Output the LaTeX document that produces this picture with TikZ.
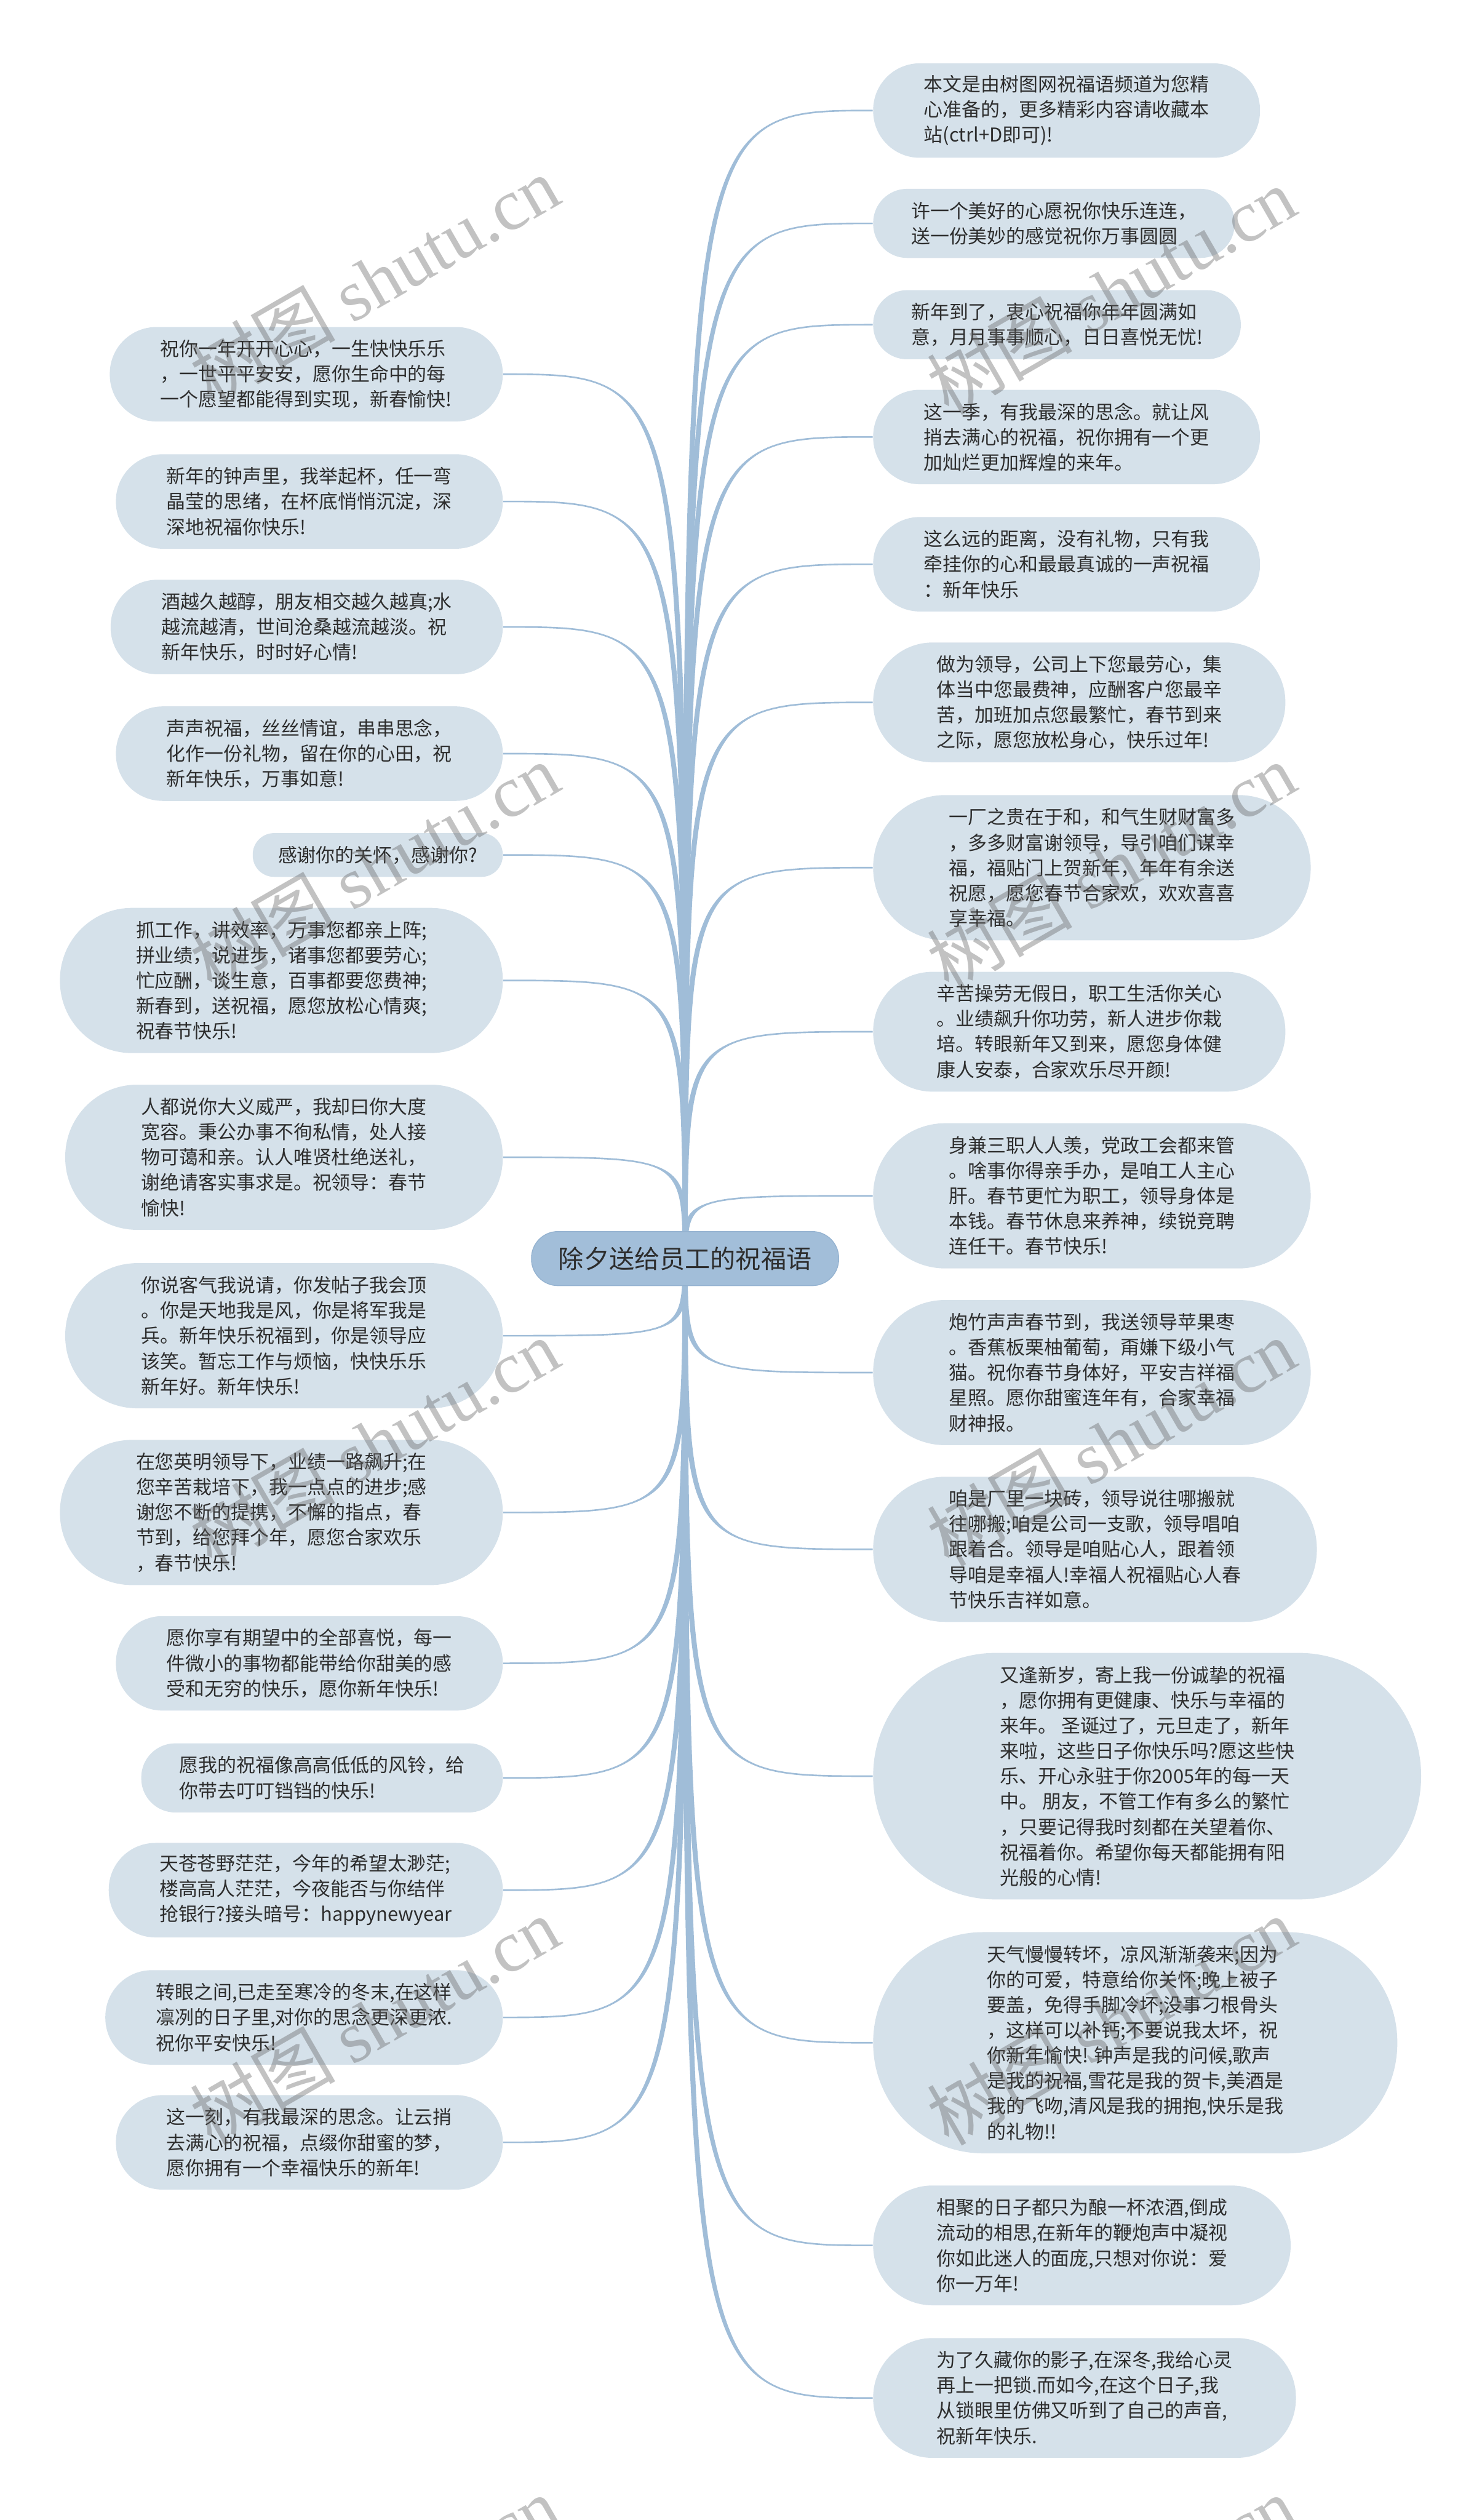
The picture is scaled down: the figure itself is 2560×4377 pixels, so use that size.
\documentclass[tikz,border=0pt]{standalone}
\usepackage{fontspec}
\newfontfamily\cjk{Noto Sans CJK SC}
\newfontfamily\wmlat{Liberation Serif}
\definecolor{leaffill}{RGB}{213,225,234}
\definecolor{rootfill}{RGB}{162,190,217}
\definecolor{rootline}{RGB}{148,178,208}
\definecolor{linecol}{RGB}{160,189,216}
\definecolor{txt}{RGB}{45,45,45}
\pgfdeclarelayer{bg}
\pgfsetlayers{bg,main}
\begin{document}
\begin{tikzpicture}[x=0.01cm,y=-0.01cm,
  leaf/.style={rectangle, fill=leaffill, text=txt, align=left,
    inner ysep=0pt,
    font=\cjk\fontsize{9.4pt}{12.5pt}\selectfont},
  lleaf/.style={leaf, anchor=east},
  rleaf/.style={leaf, anchor=west},
  n1/.style={minimum height=0.76cm, rounded corners=0.37cm, inner xsep=0.44cm},
  n2/.style={minimum height=1.20cm, rounded corners=0.59cm, inner xsep=0.66cm},
  n3/.style={minimum height=1.64cm, rounded corners=0.81cm, inner xsep=0.88cm},
  n4/.style={minimum height=2.08cm, rounded corners=1.03cm, inner xsep=1.10cm},
  n5/.style={minimum height=2.52cm, rounded corners=1.25cm, inner xsep=1.32cm},
  n8/.style={minimum height=3.84cm, rounded corners=1.91cm, inner xsep=1.98cm},
  n9/.style={minimum height=4.28cm, rounded corners=2.13cm, inner xsep=2.20cm},
  conn/.style={draw=linecol, line width=0.8pt},
  taper/.style={fill=linecol},
  wm/.style={rotate=30, text=black!60, text opacity=0.4, inner sep=0pt}
]
\clip (0,0) rectangle (2560,4377);

% root
\node[rectangle, fill=rootfill, draw=rootline, line width=0.4pt,
  minimum height=0.94cm, rounded corners=0.46cm, inner xsep=0.47cm, inner ysep=0pt, text=txt,
  font=\cjk\fontsize{12.5pt}{15pt}\selectfont] (root) at (1190,2186) {除夕送给员工的祝福语};
\coordinate (rcl) at ([xshift=-1.3pt]root.center);
\coordinate (rcr) at ([xshift=1.3pt]root.center);

% left nodes
\node[lleaf,n3] (L1) at (874,650) {祝你一年开开心心，一生快快乐乐\\，一世平平安安，愿你生命中的每\\一个愿望都能得到实现，新春愉快!};
\node[lleaf,n3] (L2) at (874,871) {新年的钟声里，我举起杯，任一弯\\晶莹的思绪，在杯底悄悄沉淀，深\\深地祝福你快乐!};
\node[lleaf,n3] (L3) at (874,1089) {酒越久越醇，朋友相交越久越真;水\\越流越清，世间沧桑越流越淡。祝\\新年快乐，时时好心情!};
\node[lleaf,n3] (L4) at (874,1309) {声声祝福，丝丝情谊，串串思念，\\化作一份礼物，留在你的心田，祝\\新年快乐，万事如意!};
\node[lleaf,n1] (L5) at (874,1485) {感谢你的关怀，感谢你?};
\node[lleaf,n5] (L6) at (874,1703) {抓工作，讲效率，万事您都亲上阵;\\拼业绩，说进步，诸事您都要劳心;\\忙应酬，谈生意，百事都要您费神;\\新春到，送祝福，愿您放松心情爽;\\祝春节快乐!};
\node[lleaf,n5] (L7) at (874,2010) {人都说你大义威严，我却曰你大度\\宽容。秉公办事不徇私情，处人接\\物可蔼和亲。认人唯贤杜绝送礼，\\谢绝请客实事求是。祝领导：春节\\愉快!};
\node[lleaf,n5] (L8) at (874,2320) {你说客气我说请，你发帖子我会顶\\。你是天地我是风，你是将军我是\\兵。新年快乐祝福到，你是领导应\\该笑。暂忘工作与烦恼，快快乐乐\\新年好。新年快乐!};
\node[lleaf,n5] (L9) at (874,2627) {在您英明领导下，业绩一路飙升;在\\您辛苦栽培下，我一点点的进步;感\\谢您不断的提携，不懈的指点，春\\节到，给您拜个年，愿您合家欢乐\\，春节快乐!};
\node[lleaf,n3] (L10) at (874,2889) {愿你享有期望中的全部喜悦，每一\\件微小的事物都能带给你甜美的感\\受和无穷的快乐，愿你新年快乐!};
\node[lleaf,n2] (L11) at (874,3088) {愿我的祝福像高高低低的风铃，给\\你带去叮叮铛铛的快乐!};
\node[lleaf,n3] (L12) at (874,3283) {天苍苍野茫茫，今年的希望太渺茫;\\楼高高人茫茫，今夜能否与你结伴\\抢银行?接头暗号：happynewyear};
\node[lleaf,n3] (L13) at (874,3504) {转眼之间,已走至寒冷的冬末,在这样\\凛冽的日子里,对你的思念更深更浓.\\祝你平安快乐!};
\node[lleaf,n3] (L14) at (874,3721) {这一刻，有我最深的思念。让云捎\\去满心的祝福，点缀你甜蜜的梦，\\愿你拥有一个幸福快乐的新年!};

% right nodes
\node[rleaf,n3] (R1) at (1516,192) {本文是由树图网祝福语频道为您精\\心准备的，更多精彩内容请收藏本\\站(ctrl+D即可)!};
\node[rleaf,n2] (R2) at (1516,388) {许一个美好的心愿祝你快乐连连，\\送一份美妙的感觉祝你万事圆圆};
\node[rleaf,n2] (R3) at (1516,564) {新年到了，衷心祝福你年年圆满如\\意，月月事事顺心，日日喜悦无忧!};
\node[rleaf,n3] (R4) at (1516,759) {这一季，有我最深的思念。就让风\\捎去满心的祝福，祝你拥有一个更\\加灿烂更加辉煌的来年。};
\node[rleaf,n3] (R5) at (1516,980) {这么远的距离，没有礼物，只有我\\牵挂你的心和最最真诚的一声祝福\\：新年快乐};
\node[rleaf,n4] (R6) at (1516,1220) {做为领导，公司上下您最劳心，集\\体当中您最费神，应酬客户您最辛\\苦，加班加点您最繁忙，春节到来\\之际，愿您放松身心，快乐过年!};
\node[rleaf,n5] (R7) at (1516,1507) {一厂之贵在于和，和气生财财富多\\，多多财富谢领导，导引咱们谋幸\\福，福贴门上贺新年，年年有余送\\祝愿，愿您春节合家欢，欢欢喜喜\\享幸福。};
\node[rleaf,n4] (R8) at (1516,1792) {辛苦操劳无假日，职工生活你关心\\。业绩飙升你功劳，新人进步你栽\\培。转眼新年又到来，愿您身体健\\康人安泰，合家欢乐尽开颜!};
\node[rleaf,n5] (R9) at (1516,2077) {身兼三职人人羡，党政工会都来管\\。啥事你得亲手办，是咱工人主心\\肝。春节更忙为职工，领导身体是\\本钱。春节休息来养神，续锐竞聘\\连任干。春节快乐!};
\node[rleaf,n5] (R10) at (1516,2384) {炮竹声声春节到，我送领导苹果枣\\。香蕉板栗柚葡萄，甭嫌下级小气\\猫。祝你春节身体好，平安吉祥福\\星照。愿你甜蜜连年有，合家幸福\\财神报。};
\node[rleaf,n5] (R11) at (1516,2691) {咱是厂里一块砖，领导说往哪搬就\\往哪搬;咱是公司一支歌，领导唱咱\\跟着合。领导是咱贴心人，跟着领\\导咱是幸福人!幸福人祝福贴心人春\\节快乐吉祥如意。};
\node[rleaf,n9] (R12) at (1516,3085) {又逢新岁，寄上我一份诚挚的祝福\\，愿你拥有更健康、快乐与幸福的\\来年。 圣诞过了，元旦走了，新年\\来啦，这些日子你快乐吗?愿这些快\\乐、开心永驻于你2005年的每一天\\中。 朋友，不管工作有多么的繁忙\\，只要记得我时刻都在关望着你、\\祝福着你。希望你每天都能拥有阳\\光般的心情!};
\node[rleaf,n8] (R13) at (1516,3548) {天气慢慢转坏，凉风渐渐袭来;因为\\你的可爱，特意给你关怀;晚上被子\\要盖，免得手脚冷坏;没事刁根骨头\\，这样可以补钙;不要说我太坏，祝\\你新年愉快! 钟声是我的问候,歌声\\是我的祝福,雪花是我的贺卡,美酒是\\我的飞吻,清风是我的拥抱,快乐是我\\的礼物!!};
\node[rleaf,n4] (R14) at (1516,3900) {相聚的日子都只为酿一杯浓酒,倒成\\流动的相思,在新年的鞭炮声中凝视\\你如此迷人的面庞,只想对你说：爱\\你一万年!};
\node[rleaf,n4] (R15) at (1516,4165) {为了久藏你的影子,在深冬,我给心灵\\再上一把锁.而如今,在这个日子,我\\从锁眼里仿佛又听到了自己的声音,\\祝新年快乐.};

% connectors
\begin{pgfonlayer}{bg}
\foreach \n in {L1,L2,L3,L4,L5,L6,L7,L8,L9,L10,L11,L12,L13,L14}{
  \fill[taper] (rcl) .. controls (rcl |- \n.east) .. (\n.east)
     .. controls (rcr |- \n.east) .. (rcr) -- cycle;
  \draw[conn] (root.center) .. controls (root.center |- \n.east) .. (\n.east);
}
\foreach \n in {R1,R2,R3,R4,R5,R6,R7,R8,R9,R10,R11,R12,R13,R14,R15}{
  \fill[taper] (rcl) .. controls (rcl |- \n.west) .. (\n.west)
     .. controls (rcr |- \n.west) .. (rcr) -- cycle;
  \draw[conn] (root.center) .. controls (root.center |- \n.west) .. (\n.west);
}
\end{pgfonlayer}

% watermarks
\foreach \wx/\wy [count=\i] in {650/485,1930/505,650/1505,1930/1505,650/2505,1930/2505,650/3510,1930/3510,650/4515,1930/4515}{
  \node[wm] (wm\i) at (\wx,\wy) {\fontsize{36pt}{42pt}\selectfont\cjk 树图 \wmlat shutu.cn};
}
\end{tikzpicture}
\end{document}
